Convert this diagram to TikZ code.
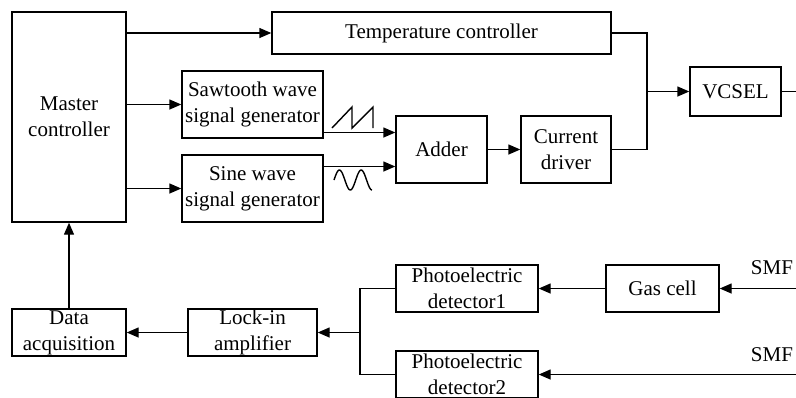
\documentclass[tikz,border=0pt]{standalone}
\usepackage{fontspec}
\setmainfont{Liberation Serif}
\usepackage{tikz}
\usetikzlibrary{arrows.meta,positioning,calc}

\begin{document}
\begin{tikzpicture}[
  x=0.5pt,y=-0.5pt,
  every node/.style={font=\fontsize{10.5}{13}\selectfont,align=center},
  block/.style={rectangle,draw,line width=0.7pt,inner sep=0pt},
  arrow/.style={-{Triangle[length=6pt,width=5pt]},line width=0.7pt},
  link/.style={line width=0.7pt}
]
\useasboundingbox (0,0) rectangle (796,397);

\node[block,minimum width=57pt,minimum height=105pt] (master) at (69,117) {Master\\controller};
\node[block,minimum width=169.5pt,minimum height=21pt] (temp) at (441.5,33) {Temperature controller};
\node[block,minimum width=70.5pt,minimum height=33.5pt] (saw) at (252.5,104.5) {Sawtooth wave\\signal generator};
\node[block,minimum width=70.5pt,minimum height=33.5pt] (sine) at (252.5,188.5) {Sine wave\\signal generator};
\node[block,minimum width=45.5pt,minimum height=33.5pt] (adder) at (441.5,149.5) {Adder};
\node[block,minimum width=45pt,minimum height=33.5pt] (driver) at (566,149.5) {Current\\driver};
\node[block,minimum width=45.5pt,minimum height=24.5pt] (vcsel) at (735.5,91.5) {VCSEL};

\node[block,minimum width=57pt,minimum height=23.5pt] (daq) at (69,332.5) {Data\\acquisition};
\node[block,minimum width=64.5pt,minimum height=23.5pt] (lockin) at (252.5,332.5) {Lock-in\\amplifier};
\node[block,minimum width=71pt,minimum height=23.5pt] (pd1) at (467,288.5) {Photoelectric\\detector1};
\node[block,minimum width=71pt,minimum height=23.5pt] (pd2) at (467,374.5) {Photoelectric\\detector2};
\node[block,minimum width=56.5pt,minimum height=23.5pt] (gas) at (662.5,288.5) {Gas cell};
\node (smf1) at (772,268) {SMF};
\node (smf2) at (772,355) {SMF};

\coordinate (addin1) at ([yshift=8.5pt]adder.west);
\coordinate (addin2) at ([yshift=-8.5pt]adder.west);
\coordinate (tjoin) at (647,91.5);
\coordinate (laserout) at (796,91.5);
\coordinate (pdjoin) at (360,332.5);
\coordinate (fibre1) at (796,288.5);
\coordinate (fibre2) at (796,374.5);

\draw[arrow] (master.east |- temp) -- (temp);
\draw[arrow] (master.east |- saw) -- (saw);
\draw[arrow] (master.east |- sine) -- (sine);
\draw[arrow] (saw.east |- addin1) -- (addin1);
\draw[arrow] (sine.east |- addin2) -- (addin2);
\draw[arrow] (adder) -- (driver);
\draw[link] (temp.east) -| (tjoin);
\draw[link] (driver.east) -| (tjoin);
\draw[arrow] (tjoin) -- (vcsel);
\draw[link] (vcsel.east) -- (laserout);

\draw[link] (332,128) -- (352,107) -- (352,128) -- (373,107) -- (373,128);
\draw[link] plot[domain=0:630,samples=60,smooth] ({334+\x/630*38},{180-10*sin(\x)});

\draw[arrow] (fibre1) -- (gas);
\draw[arrow] (fibre2) -- (pd2);
\draw[arrow] (gas) -- (pd1);
\draw[link] (pd1.west) -| (pdjoin);
\draw[link] (pd2.west) -| (pdjoin);
\draw[arrow] (pdjoin) -- (lockin);
\draw[arrow] (lockin) -- (daq);
\draw[arrow] (daq) -- (master);
\end{tikzpicture}
\end{document}
